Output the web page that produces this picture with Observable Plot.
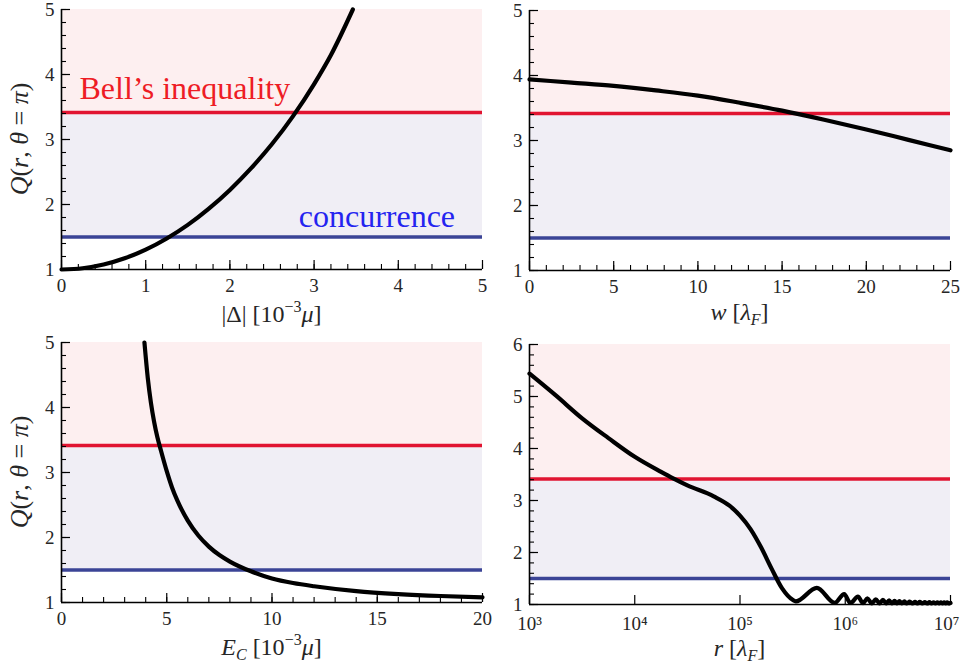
<!DOCTYPE html>
<html><head><meta charset="utf-8">
<script src="https://cdn.jsdelivr.net/npm/d3@7"></script>
<script src="https://cdn.jsdelivr.net/npm/@observablehq/plot@0.6"></script>
<style>
body{margin:0;background:#fff;}
#wrap{position:relative;width:961px;height:670px;overflow:hidden;background:#fff;}
#wrap svg{position:absolute;}
</style></head><body><div id="wrap"></div>
<script>
// threshold levels
const bellLevel = 3.414;
const concLevel = 1.5;

// (a) Q vs |Delta| [1e-3 mu]
const deltaX = [0, 0.25, 0.5, 0.75, 1.0, 1.25, 1.5, 1.75, 2.0, 2.25, 2.5, 2.75, 3.0, 3.2, 3.46];
const deltaQ = [1.0, 1.019, 1.076, 1.172, 1.305, 1.477, 1.686, 1.936, 2.224, 2.555, 2.93, 3.36, 3.853, 4.30, 5.0];

// (b) Q vs w [lambda_F]
const wX = [0, 2.5, 5, 7.5, 10, 12.5, 15, 17.5, 20, 22.5, 25];
const wQ = [3.94, 3.89, 3.84, 3.77, 3.69, 3.58, 3.46, 3.32, 3.17, 3.01, 2.85];

// (c) Q vs E_C [1e-3 mu]
const ecX = [3.94, 4.1, 4.25, 4.4, 4.55, 4.73, 5.0, 5.25, 5.5, 6.0, 6.5, 7.0, 7.5, 8.0, 9.0, 10, 11, 12, 14, 16, 18, 20];
const ecQ = [5.0, 4.45, 4.07, 3.78, 3.55, 3.33, 3.02, 2.77, 2.57, 2.26, 2.03, 1.86, 1.73, 1.63, 1.48, 1.37, 1.30, 1.25, 1.175, 1.13, 1.10, 1.08];

// (d) Q vs r [lambda_F], log axis
const rX = [1000, 1778, 3162, 5623, 10000, 17783, 23442, 31623, 56234, 79433, 100000, 125893, 158489, 199526, 251189, 316228, 339000,
            537000, 794000, 977000, 1.12e6, 1.32e6, 1.48e6, 1.62e6, 1.79e6, 1.95e6, 2.12e6, 2.28e6, 2.45e6,
            2.61e6, 2.78e6, 2.94e6, 3.1e6, 3.27e6, 3.45e6, 3.65e6, 3.85e6, 4.1e6, 4.35e6, 4.6e6, 4.85e6,
            5.1e6, 5.4e6, 5.7e6, 6.0e6, 6.3e6, 6.6e6, 6.9e6, 7.2e6, 7.5e6, 7.8e6, 8.1e6, 8.4e6, 8.7e6,
            9.0e6, 9.3e6, 9.6e6, 1e7];
const rQ = [5.44, 5.02, 4.58, 4.20, 3.84, 3.55, 3.42, 3.29, 3.08, 2.90, 2.71, 2.45, 2.10, 1.69, 1.31, 1.09, 1.06,
            1.32, 1.03, 1.20, 1.03, 1.15, 1.025, 1.12, 1.02, 1.10, 1.02, 1.09, 1.02,
            1.08, 1.02, 1.07, 1.02, 1.065, 1.02, 1.06, 1.02, 1.055, 1.02, 1.05, 1.02,
            1.05, 1.02, 1.045, 1.02, 1.045, 1.02, 1.04, 1.02, 1.04, 1.02, 1.04, 1.02, 1.04,
            1.02, 1.04, 1.02, 1.03];

// tick values
const ticksA = {major: [0,1,2,3,4,5], minor: d3.range(0, 5.0001, 0.2)};
const ticksB = {major: [0,5,10,15,20,25], minor: d3.range(0, 25.001, 1)};
const ticksC = {major: [0,5,10,15,20], minor: d3.range(0, 20.001, 1)};
const ticksD = {major: [1e3,1e4,1e5,1e6,1e7], minor: []};
const logTickLabels = ["10³", "10⁴", "10⁵", "10⁶", "10⁷"];
const yMajor5 = [1,2,3,4,5];
const yMajor6 = [1,2,3,4,5,6];
const yMinor5 = d3.range(1, 5.0001, 0.2);
const yMinor6 = d3.range(1, 6.0001, 0.2);

const PINK = "#fdeff0", LAV = "#f0eef5", RED = "#e11431", BLUE = "#3b4496";
const FONT = "Liberation Serif, Times New Roman, serif";

function makePanel(cfg) {
  const data = cfg.xs.map((x, i) => ({x, q: cfg.qs[i]}));
  const [x0, x1] = cfg.xDomain, [y0, y1] = cfg.yDomain;
  const pw = cfg.width - cfg.m[0] - cfg.m[1];
  const ph = cfg.height - cfg.m[2] - cfg.m[3];
  const marks = [
    Plot.rect([0], {x1: () => x0, x2: () => x1, y1: () => bellLevel, y2: () => y1, fill: PINK}),
    Plot.rect([0], {x1: () => x0, x2: () => x1, y1: () => concLevel, y2: () => bellLevel, fill: LAV}),
    Plot.ruleY([bellLevel], {stroke: RED, strokeWidth: 3.5}),
    Plot.ruleY([concLevel], {stroke: BLUE, strokeWidth: 3.5}),
    Plot.line(data, {x: "x", y: "q", stroke: "black", strokeWidth: 4.2, curve: "monotone-x"}),
    // inward minor / major ticks
    Plot.ruleY(cfg.yMinor, {stroke: "black", strokeWidth: 1.1, insetRight: pw - 5}),
    Plot.ruleY(cfg.yMajor, {stroke: "black", strokeWidth: 1.2, insetRight: pw - 9}),
    Plot.ruleX(cfg.xTicks.minor, {stroke: "black", strokeWidth: 1.1, insetTop: ph - 5}),
    Plot.ruleX(cfg.xTicks.major, {stroke: "black", strokeWidth: 1.2, insetTop: ph - 9}),
    Plot.ruleX([x0], {stroke: "black", strokeWidth: 1.6}),
    Plot.ruleY([y0], {stroke: "black", strokeWidth: 1.6}),
    Plot.axisY(cfg.yMajor, {tickSize: 0, tickPadding: 7, label: null, fill: "#262626", tickFormat: d => String(d)}),
    Plot.axisX(cfg.xTicks.major, {tickSize: 0, tickPadding: cfg.xPad || 9, label: null, fill: "#262626",
      tickFormat: cfg.xFormat || (d => String(d))})
  ];
  const svg = Plot.plot({
    width: cfg.width, height: cfg.height,
    marginLeft: cfg.m[0], marginRight: cfg.m[1], marginTop: cfg.m[2], marginBottom: cfg.m[3],
    x: {type: cfg.xType || "linear", domain: cfg.xDomain, label: null},
    y: {domain: cfg.yDomain, label: null},
    style: {fontFamily: FONT, fontSize: "19px", background: "transparent", overflow: "visible", color: "black"},
    marks
  });
  svg.style.left = cfg.left + "px";
  svg.style.top = cfg.top + "px";
  const sel = d3.select(svg);
  const sx = svg.scale("x"), sy = svg.scale("y");
  (cfg.notes || []).forEach(n => {
    sel.append("text").attr("x", sx.apply(n.x)).attr("y", sy.apply(n.y))
      .attr("text-anchor", n.anchor).attr("fill", n.color)
      .attr("font-family", FONT).attr("font-size", 32).text(n.text);
  });
  if (cfg.lastTickDx) {
    const texts = sel.selectAll("g[aria-label='x-axis tick label'] text").nodes();
    if (texts.length) d3.select(texts[texts.length - 1]).attr("dx", cfg.lastTickDx);
  }
  const xl = sel.append("text").attr("x", (cfg.m[0] + cfg.width - cfg.m[1]) / 2)
    .attr("y", cfg.xLabelY).attr("text-anchor", "middle").attr("font-family", FONT)
    .attr("font-size", 24).attr("fill", "#262626");
  cfg.xLabel.forEach(p => {
    const t = xl.append("tspan").text(p.t);
    if (p.i) t.attr("font-style", "italic");
    if (p.s) t.attr("font-size", p.s);
    if (p.dy) t.attr("dy", p.dy);
  });
  if (cfg.yLabel) {
    const cy = (cfg.m[2] + cfg.height - cfg.m[3]) / 2;
    const yl = sel.append("text").attr("transform", `translate(28,${cy}) rotate(-90)`)
      .attr("text-anchor", "middle").attr("font-family", FONT).attr("font-size", 26).attr("fill", "#262626");
    cfg.yLabel.forEach(p => {
      const t = yl.append("tspan").text(p.t);
      if (p.i) t.attr("font-style", "italic");
    });
  }
  document.getElementById("wrap").appendChild(svg);
}

const qLabel = [{t: "Q", i: 1}, {t: "("}, {t: "r", i: 1}, {t: ", "}, {t: "θ", i: 1}, {t: " = "}, {t: "π", i: 1}, {t: ")"}];
const unitMu = [{t: " [10"}, {t: "−3", s: 16, dy: -10}, {t: "μ", i: 1, dy: 10}, {t: "]"}];
const unitLam = [{t: " ["}, {t: "λ", i: 1}, {t: "F", i: 1, s: 16, dy: 5}, {t: "]", dy: -5}];

makePanel({xs: deltaX, qs: deltaQ, xDomain: [0, 5], yDomain: [1, 5], xTicks: ticksA, yMajor: yMajor5, yMinor: yMinor5,
  width: 490, height: 330, m: [61, 8, 9, 61], left: 0, top: 0, xLabelY: 322,
  xLabel: [{t: "|Δ|"}, ...unitMu], yLabel: qLabel,
  notes: [{text: "Bell’s inequality", x: 0.22, y: 3.61, anchor: "start", color: "#ee1c25"},
          {text: "concurrence", x: 4.68, y: 1.64, anchor: "end", color: "#2424f0"}]});

makePanel({xs: wX, qs: wQ, xDomain: [0, 25], yDomain: [1, 5], xTicks: ticksB, yMajor: yMajor5, yMinor: yMinor5,
  width: 481, height: 330, m: [49, 11, 10, 60], left: 480, top: 0, xLabelY: 320,
  xLabel: [{t: "w", i: 1}, ...unitLam]});

makePanel({xs: ecX, qs: ecQ, xDomain: [0, 20], yDomain: [1, 5], xTicks: ticksC, yMajor: yMajor5, yMinor: yMinor5,
  width: 490, height: 340, m: [61, 8, 12, 68], left: 0, top: 330, xLabelY: 325,
  xLabel: [{t: "E", i: 1}, {t: "C", i: 1, s: 16, dy: 5}, {t: " [10", dy: -5}, {t: "−3", s: 16, dy: -10}, {t: "μ", i: 1, dy: 10}, {t: "]"}],
  yLabel: qLabel});

makePanel({xs: rX, qs: rQ, xDomain: [1e3, 1e7], xType: "log", yDomain: [1, 6], xTicks: ticksD, yMajor: yMajor6, yMinor: yMinor6,
  xFormat: d => logTickLabels[Math.round(Math.log10(d)) - 3], lastTickDx: -4, xPad: 12,
  width: 481, height: 340, m: [49, 11, 14, 66], left: 480, top: 330, xLabelY: 326,
  xLabel: [{t: "r", i: 1}, ...unitLam]});
</script></body></html>
